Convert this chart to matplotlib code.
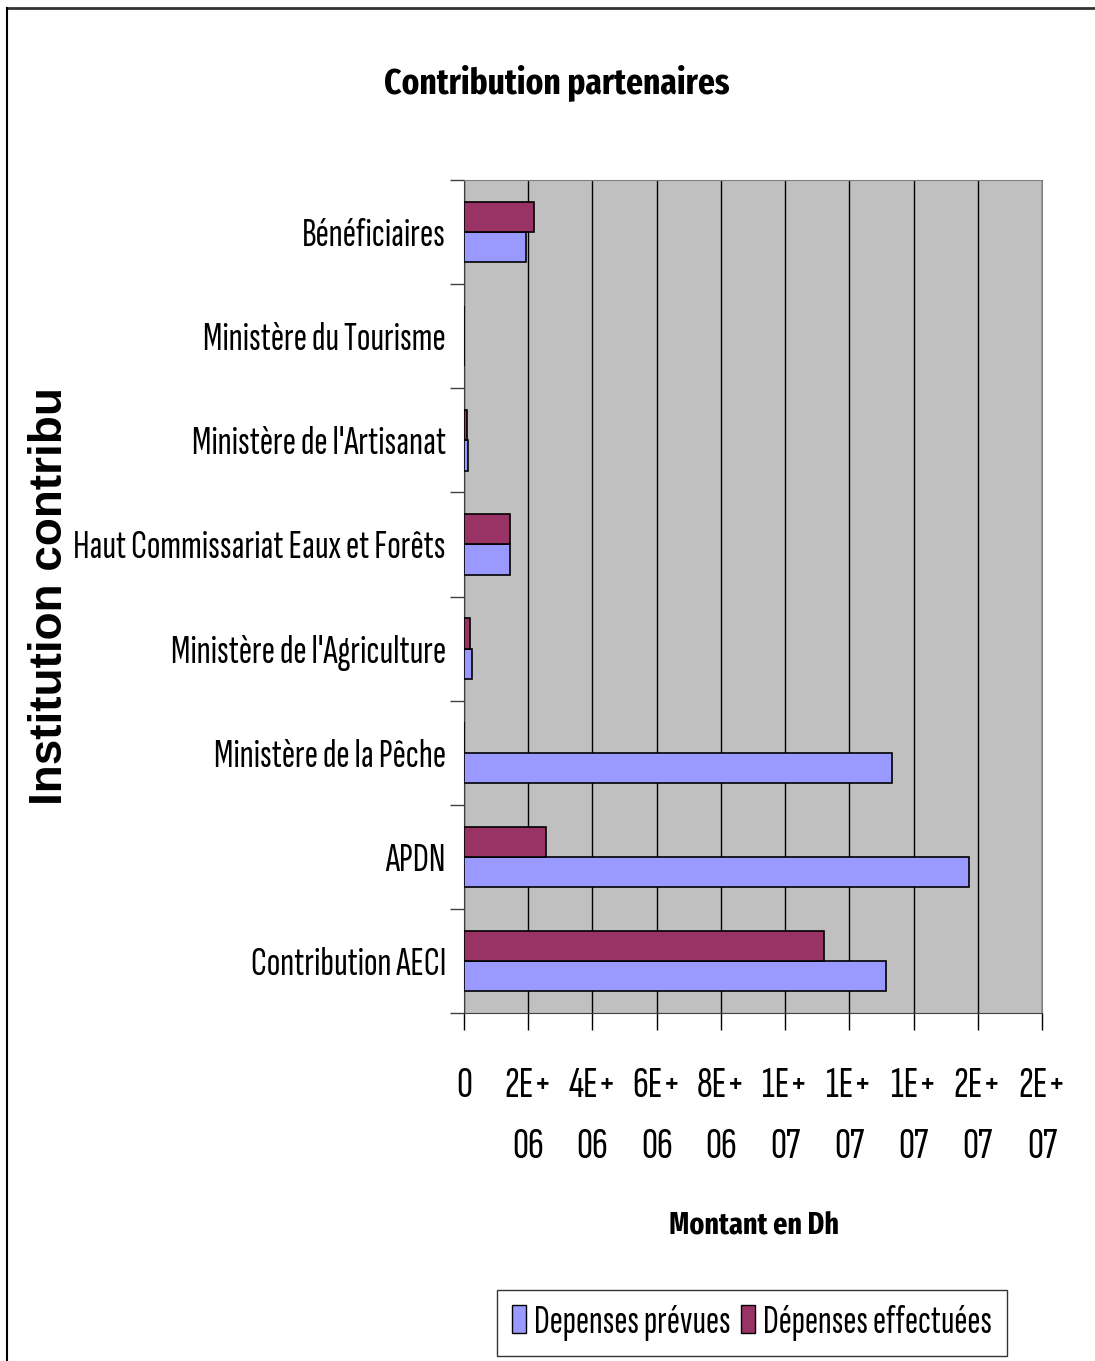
import matplotlib
matplotlib.use("Agg")
import matplotlib.pyplot as plt
from matplotlib.lines import Line2D
from matplotlib.patches import Patch
import numpy as np

# ---------------- data ----------------
categories = [
    "Contribution AECI",
    "APDN",
    "Ministère de la Pêche",
    "Ministère de l'Agriculture",
    "Haut Commissariat Eaux et Forêts",
    "Ministère de l'Artisanat",
    "Ministère du Tourisme",
    "Bénéficiaires",
]
depenses_prevues = [13.15e6, 15.73e6, 13.33e6, 0.25e6, 1.43e6, 0.12e6, 0.0, 1.93e6]
depenses_effectuees = [11.21e6, 2.55e6, 0.0, 0.19e6, 1.43e6, 0.09e6, 0.0, 2.18e6]
series_names = ["Depenses prévues", "Dépenses effectuées"]
x_ticks = [0, 2e6, 4e6, 6e6, 8e6, 1e7, 1.2e7, 1.4e7, 1.6e7, 1.8e7]
x_tick_labels = ["0", "2E+\n06", "4E+\n06", "6E+\n06", "8E+\n06",
                 "1E+\n07", "1E+\n07", "1E+\n07", "2E+\n07", "2E+\n07"]
title = "Contribution partenaires"
x_title = "Montant en Dh"
y_title = "Institution contribu"

# ---------------- fonts ----------------
NARROW = ["Sofia Sans Extra Condensed", "Archivo Narrow", "Liberation Sans Narrow", "DejaVu Sans"]
NARROW_BOLD = ["Fira Sans Extra Condensed", "Barlow Condensed", "Pragati Narrow", "DejaVu Sans"]
plt.rcParams["font.family"] = NARROW

col_prev = "#9999FF"
col_eff = "#993366"

fig = plt.figure(figsize=(10.95, 13.61), dpi=100)
ax = fig.add_axes([464 / 1095, 1 - 1013 / 1361, (1042 - 464) / 1095, (1013 - 180) / 1361])
ax.set_facecolor("#C0C0C0")

y = np.arange(len(categories))
h = 0.29
ax.barh(y - h / 2, depenses_prevues, height=h, color=col_prev, edgecolor="black", linewidth=1.2, zorder=3)
ax.barh(y + h / 2, depenses_effectuees, height=h, color=col_eff, edgecolor="black", linewidth=1.2, zorder=3)

ax.set_xlim(0, 1.8e7)
ax.set_ylim(-0.5, len(categories) - 0.5)
ax.set_xticks(x_ticks)
ax.set_xticklabels(x_tick_labels, fontsize=32, linespacing=1.72)
ax.tick_params(axis="x", length=12, width=1, pad=26, colors="black")
ax.set_yticks(y)
ax.set_yticklabels(categories, fontsize=29)
ax.tick_params(axis="y", which="major", length=0, pad=13)
ax.set_yticks(np.arange(len(categories) + 1) - 0.5, minor=True)
ax.tick_params(axis="y", which="minor", length=10, width=1, colors="#404040")
ax.xaxis.grid(True, color="black", linewidth=1)
ax.set_axisbelow(True)
for s in ["top", "right"]:
    ax.spines[s].set_color("#808080")
ax.spines["left"].set_color("#404040")
ax.spines["bottom"].set_color("#404040")

fig.text(557 / 1095, 1 - 93 / 1361, title, ha="center", va="baseline", fontsize=26,
         fontweight="bold", family=NARROW_BOLD)
fig.text(754 / 1095, 1 - 1233 / 1361, x_title, ha="center", va="baseline", fontsize=22,
         fontweight="bold", family=NARROW_BOLD)
fig.text(50 / 1095, 1 - 596 / 1361, y_title, ha="center", va="center", rotation=90,
         fontsize=33, fontweight="bold", family=["Liberation Sans", "DejaVu Sans"])

handles = [Patch(facecolor=col_prev, edgecolor="black"), Patch(facecolor=col_eff, edgecolor="black")]
leg = fig.legend(handles, series_names, loc="center", bbox_to_anchor=(752 / 1095, 1 - 1323 / 1361),
                 ncol=2, fontsize=28.5, frameon=True, fancybox=False, edgecolor="black",
                 handlelength=0.37, handleheight=0.7, handletextpad=0.2, columnspacing=0.25,
                 borderpad=0.38, borderaxespad=0)
leg.get_frame().set_linewidth(1)

fig.add_artist(Line2D([7 / 1095, 1], [1 - 8 / 1361, 1 - 8 / 1361], color="#333333", lw=2, transform=fig.transFigure))
fig.add_artist(Line2D([7 / 1095, 7 / 1095], [0, 1 - 8 / 1361], color="black", lw=1.5, transform=fig.transFigure))

fig.savefig("out.png", dpi=100, facecolor="white")
